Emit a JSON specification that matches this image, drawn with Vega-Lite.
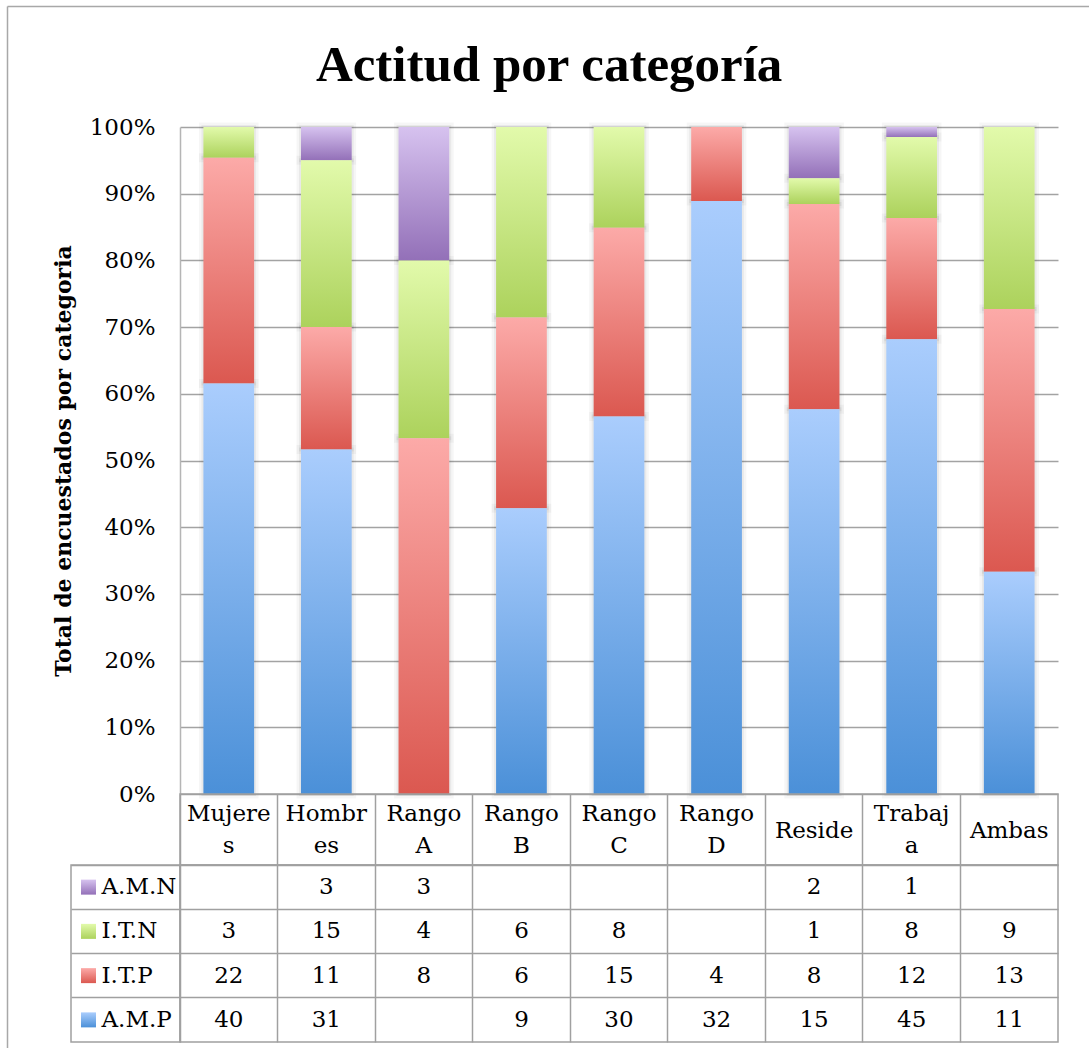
{
  "$schema": "https://vega.github.io/schema/vega-lite/v6.json",
  "autosize": {"type": "pad"},
  "padding": {"left": 7, "top": 6, "right": 0, "bottom": 0},
  "background": "white",
  "datasets": {
    "vals": [
      {"cat": "Mujeres", "series": "I.T.N", "n": 3},
      {"cat": "Mujeres", "series": "I.T.P", "n": 22},
      {"cat": "Mujeres", "series": "A.M.P", "n": 40},
      {"cat": "Hombres", "series": "A.M.N", "n": 3},
      {"cat": "Hombres", "series": "I.T.N", "n": 15},
      {"cat": "Hombres", "series": "I.T.P", "n": 11},
      {"cat": "Hombres", "series": "A.M.P", "n": 31},
      {"cat": "Rango A", "series": "A.M.N", "n": 3},
      {"cat": "Rango A", "series": "I.T.N", "n": 4},
      {"cat": "Rango A", "series": "I.T.P", "n": 8},
      {"cat": "Rango B", "series": "I.T.N", "n": 6},
      {"cat": "Rango B", "series": "I.T.P", "n": 6},
      {"cat": "Rango B", "series": "A.M.P", "n": 9},
      {"cat": "Rango C", "series": "I.T.N", "n": 8},
      {"cat": "Rango C", "series": "I.T.P", "n": 15},
      {"cat": "Rango C", "series": "A.M.P", "n": 30},
      {"cat": "Rango D", "series": "I.T.P", "n": 4},
      {"cat": "Rango D", "series": "A.M.P", "n": 32},
      {"cat": "Reside", "series": "A.M.N", "n": 2},
      {"cat": "Reside", "series": "I.T.N", "n": 1},
      {"cat": "Reside", "series": "I.T.P", "n": 8},
      {"cat": "Reside", "series": "A.M.P", "n": 15},
      {"cat": "Trabaja", "series": "A.M.N", "n": 1},
      {"cat": "Trabaja", "series": "I.T.N", "n": 8},
      {"cat": "Trabaja", "series": "I.T.P", "n": 12},
      {"cat": "Trabaja", "series": "A.M.P", "n": 45},
      {"cat": "Ambas", "series": "I.T.N", "n": 9},
      {"cat": "Ambas", "series": "I.T.P", "n": 13},
      {"cat": "Ambas", "series": "A.M.P", "n": 11}
    ],
    "cats": [
      {"cat": "Mujeres", "hdr": "Mujere|s"},
      {"cat": "Hombres", "hdr": "Hombr|es"},
      {"cat": "Rango A", "hdr": "Rango|A"},
      {"cat": "Rango B", "hdr": "Rango|B"},
      {"cat": "Rango C", "hdr": "Rango|C"},
      {"cat": "Rango D", "hdr": "Rango|D"},
      {"cat": "Reside", "hdr": "Reside"},
      {"cat": "Trabaja", "hdr": "Trabaj|a"},
      {"cat": "Ambas", "hdr": "Ambas"}
    ],
    "series": [
      {"series": "A.M.N"},
      {"series": "I.T.N"},
      {"series": "I.T.P"},
      {"series": "A.M.P"}
    ]
  },
  "columns": 2,
  "spacing": 0,
  "bounds": "flush",
  "resolve": {"scale": {"x": "independent", "y": "independent"}},
  "concat": [
    {
      "width": 109, "height": 667,
      "data": {"values": [{}]},
      "mark": {"type": "point", "opacity": 0},
      "encoding": {
        "x": {"datum": 0.5, "type": "quantitative", "scale": {"domain": [0, 1], "range": [-64, 1040]},
          "axis": {"orient": "top", "offset": 121, "domain": true, "domainColor": "#a8a8a8", "domainWidth": 1.5, "ticks": false, "labels": false, "grid": false, "title": null, "tickCount": 0}},
        "y": {"datum": 0.5, "type": "quantitative", "scale": {"domain": [0, 1], "range": [950, -121]},
          "axis": {"orient": "left", "offset": 64, "domain": true, "domainColor": "#a8a8a8", "domainWidth": 1.5, "ticks": false, "labels": false, "grid": false, "title": null, "tickCount": 0}}
      }
    },
    {
      "width": 878, "height": 667,
      "title": {"text": "Actitud por categoría", "font": "Liberation Serif", "fontSize": 51, "fontWeight": "bold", "color": "#000000", "anchor": "middle", "frame": "bounds", "offset": 24, "dx": -6},
      "data": {"name": "vals"},
      "transform": [{"calculate": "indexof(['A.M.P','I.T.P','I.T.N','A.M.N'], datum.series)", "as": "k"}],
      "encoding": {
        "x": {"field": "cat", "type": "nominal", "scale": {"type": "band", "domain": ["Mujeres", "Hombres", "Rango A", "Rango B", "Rango C", "Rango D", "Reside", "Trabaja", "Ambas"], "paddingInner": 0.48, "paddingOuter": 0.24}, "axis": null},
        "y": {"field": "n", "type": "quantitative", "stack": "normalize", "scale": {"domain": [0, 1]},
          "axis": {"values": [0, 0.1, 0.2, 0.3, 0.4, 0.5, 0.6, 0.7, 0.8, 0.9, 1], "format": ".0%", "title": "Total de encuestados por categoria",
            "grid": true, "gridColor": "#a3a3a3", "gridWidth": 1.5, "domain": true, "domainColor": "#b5b5b5", "domainWidth": 1.5, "ticks": false,
            "labelPadding": 25, "labelFont": "DejaVu Serif", "labelFontSize": 23, "labelColor": "#000000",
            "titleFont": "DejaVu Serif", "titleFontSize": 22, "titleFontWeight": "bold", "titleColor": "#000000", "titlePadding": 14}},
        "order": {"field": "k", "type": "quantitative"},
        "detail": {"field": "series"}
      },
      "layer": [
        {
          "mark": {"type": "bar", "fillOpacity": 0, "stroke": "#000000", "strokeOpacity": 0.035, "strokeWidth": 9}
        },
        {
          "mark": {"type": "bar", "fillOpacity": 0, "stroke": "#000000", "strokeOpacity": 0.05, "strokeWidth": 4}
        },
        {
          "mark": {"type": "bar"},
          "encoding": {
            "fill": {
              "condition": [
                {"test": "datum.series === 'A.M.P'", "value": {"gradient": "linear", "x1": 0, "y1": 0, "x2": 0, "y2": 1, "stops": [{"offset": 0, "color": "#aacdfd"}, {"offset": 1, "color": "#4b90d8"}]}},
                {"test": "datum.series === 'I.T.P'", "value": {"gradient": "linear", "x1": 0, "y1": 0, "x2": 0, "y2": 1, "stops": [{"offset": 0, "color": "#fcaaa8"}, {"offset": 1, "color": "#db5850"}]}},
                {"test": "datum.series === 'I.T.N'", "value": {"gradient": "linear", "x1": 0, "y1": 0, "x2": 0, "y2": 1, "stops": [{"offset": 0, "color": "#e2faab"}, {"offset": 1, "color": "#acd25c"}]}}
              ],
              "value": {"gradient": "linear", "x1": 0, "y1": 0, "x2": 0, "y2": 1, "stops": [{"offset": 0, "color": "#d6c2ef"}, {"offset": 1, "color": "#9370b8"}]}
            }
          }
        }
      ]
    },
    {
      "width": 109, "height": 71,
      "data": {"values": [{}]},
      "mark": {"type": "point", "opacity": 0},
      "encoding": {}
    },
    {
      "width": 878, "height": 71,
      "data": {"name": "cats"},
      "view": {"stroke": "#a0a0a0", "strokeWidth": 1.5},
      "encoding": {
        "x": {"field": "cat", "type": "nominal", "scale": {"type": "band", "domain": ["Mujeres", "Hombres", "Rango A", "Rango B", "Rango C", "Rango D", "Reside", "Trabaja", "Ambas"], "paddingInner": 0, "paddingOuter": 0},
          "axis": {"title": null, "labels": false, "ticks": false, "domain": false, "grid": true, "bandPosition": 0, "gridColor": "#a0a0a0", "gridWidth": 1.5}},
        "text": {"field": "hdr"}
      },
      "layer": [
        {
          "transform": [{"filter": "indexof(datum.hdr, '|') >= 0"}],
          "mark": {"type": "text", "lineBreak": "|", "font": "DejaVu Serif", "fontSize": 23, "lineHeight": 32, "baseline": "middle", "dy": -16, "color": "#000000"}
        },
        {
          "transform": [{"filter": "indexof(datum.hdr, '|') < 0"}],
          "mark": {"type": "text", "font": "DejaVu Serif", "fontSize": 23, "baseline": "middle", "dy": 1, "color": "#000000"}
        }
      ]
    },
    {
      "width": 109, "height": 177,
      "data": {"name": "series"},
      "view": {"stroke": "#a0a0a0", "strokeWidth": 1.5},
      "encoding": {
        "y": {"field": "series", "type": "nominal", "scale": {"type": "band", "domain": ["A.M.N", "I.T.N", "I.T.P", "A.M.P"], "paddingInner": 0, "paddingOuter": 0},
          "axis": {"title": null, "labels": false, "ticks": false, "domain": false, "grid": true, "bandPosition": 0, "gridColor": "#a0a0a0", "gridWidth": 1.5}}
      },
      "layer": [
        {
          "mark": {"type": "point", "shape": "square", "filled": true, "size": 225, "opacity": 1, "xOffset": -37},
          "encoding": {
            "fill": {
              "condition": [
                {"test": "datum.series === 'A.M.P'", "value": {"gradient": "linear", "x1": 0, "y1": 0, "x2": 0, "y2": 1, "stops": [{"offset": 0, "color": "#aacdfd"}, {"offset": 1, "color": "#4b90d8"}]}},
                {"test": "datum.series === 'I.T.P'", "value": {"gradient": "linear", "x1": 0, "y1": 0, "x2": 0, "y2": 1, "stops": [{"offset": 0, "color": "#fcaaa8"}, {"offset": 1, "color": "#db5850"}]}},
                {"test": "datum.series === 'I.T.N'", "value": {"gradient": "linear", "x1": 0, "y1": 0, "x2": 0, "y2": 1, "stops": [{"offset": 0, "color": "#e2faab"}, {"offset": 1, "color": "#acd25c"}]}}
              ],
              "value": {"gradient": "linear", "x1": 0, "y1": 0, "x2": 0, "y2": 1, "stops": [{"offset": 0, "color": "#d6c2ef"}, {"offset": 1, "color": "#9370b8"}]}
            }
          }
        },
        {
          "mark": {"type": "text", "align": "left", "dx": -24, "font": "DejaVu Serif", "fontSize": 23, "color": "#000000", "baseline": "middle"},
          "encoding": {"text": {"field": "series"}}
        }
      ]
    },
    {
      "width": 878, "height": 177,
      "data": {"name": "vals"},
      "view": {"stroke": "#a0a0a0", "strokeWidth": 1.5},
      "mark": {"type": "text", "font": "DejaVu Serif", "fontSize": 23, "color": "#000000", "baseline": "middle"},
      "encoding": {
        "x": {"field": "cat", "type": "nominal", "scale": {"type": "band", "domain": ["Mujeres", "Hombres", "Rango A", "Rango B", "Rango C", "Rango D", "Reside", "Trabaja", "Ambas"], "paddingInner": 0, "paddingOuter": 0},
          "axis": {"title": null, "labels": false, "ticks": false, "domain": false, "grid": true, "bandPosition": 0, "gridColor": "#a0a0a0", "gridWidth": 1.5}},
        "y": {"field": "series", "type": "nominal", "scale": {"type": "band", "domain": ["A.M.N", "I.T.N", "I.T.P", "A.M.P"], "paddingInner": 0, "paddingOuter": 0},
          "axis": {"title": null, "labels": false, "ticks": false, "domain": false, "grid": true, "bandPosition": 0, "gridColor": "#a0a0a0", "gridWidth": 1.5}},
        "text": {"field": "n"}
      }
    }
  ],
  "config": {"view": {"stroke": null}, "font": "DejaVu Serif"}
}
